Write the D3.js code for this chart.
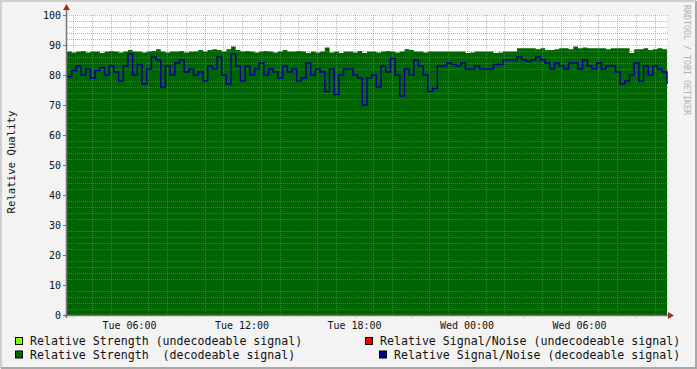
<!DOCTYPE html>
<html>
<head>
<meta charset="utf-8">
<script src="https://cdn.jsdelivr.net/npm/d3@7"></script>
<style>
  body { margin: 0; background: #f3f3f3; }
  svg { display: block; font-family: "DejaVu Sans Mono", monospace; }
</style>
</head>
<body>
<div id="chart"></div>
<script>
// 15 minute samples, Tue 02:40 -> Wed 10:40
var startTime = new Date(2013, 0, 1, 2, 40);
var stepMinutes = 15;

var strength = [
    87.8, 87.5, 87.8, 88.0, 87.5, 87.8, 87.8, 87.3, 87.8, 88.0,
    87.8, 87.5, 87.8, 88.3, 87.8, 87.8, 87.5, 87.8, 88.0, 88.6,
    87.8, 87.5, 87.8, 87.8, 88.0, 87.5, 87.8, 87.8, 88.3, 87.8,
    88.3, 88.6, 88.3, 87.8, 88.6, 89.5, 88.3, 87.8, 88.0, 87.8,
    87.5, 87.8, 88.0, 87.8, 87.5, 87.8, 88.3, 87.8, 87.8, 88.0,
    87.8, 87.3, 87.8, 87.5, 87.8, 89.2, 87.5, 87.8, 87.3, 87.8,
    87.8, 87.5, 88.0, 87.3, 87.8, 87.8, 87.5, 87.8, 88.0, 87.8,
    87.5, 87.8, 88.6, 88.3, 87.8, 87.8, 87.5, 87.8, 87.8, 87.8,
    87.8, 87.8, 87.8, 87.8, 87.8, 87.3, 87.5, 87.8, 87.8, 87.8,
    87.8, 87.3, 87.5, 87.8, 87.8, 87.8, 88.9, 88.9, 88.9, 88.9,
    88.6, 88.9, 88.3, 88.3, 88.6, 88.9, 88.9, 88.6, 89.5, 88.9,
    89.2, 88.9, 88.9, 88.9, 88.9, 88.6, 88.9, 88.9, 88.9, 88.9,
    87.3, 88.6, 88.6, 88.9, 88.3, 88.6, 88.9, 88.6, 88.6
];

var snr = [
    79.5, 81.5, 83.0, 80.0, 82.0, 79.0, 81.5, 82.5, 80.0, 83.0,
    81.0, 78.0, 83.0, 87.0, 80.0, 83.5, 77.0, 82.0, 86.0, 85.0,
    76.0, 83.0, 80.0, 84.0, 85.0, 81.0, 82.0, 80.0, 81.0, 78.0,
    83.0, 82.0, 86.0, 80.0, 77.0, 87.0, 83.0, 78.0, 83.0, 80.0,
    82.0, 84.0, 80.0, 82.0, 81.0, 79.0, 83.0, 81.0, 82.0, 78.0,
    79.0, 84.0, 80.0, 82.0, 81.0, 74.5, 82.0, 73.5, 80.0, 82.0,
    82.0, 80.0, 79.0, 70.0, 79.0, 80.0, 76.0, 83.0, 81.0, 85.5,
    80.0, 73.0, 82.0, 80.0, 85.0, 83.0, 80.0, 74.5, 75.5, 83.0,
    83.0, 84.0, 83.5, 83.0, 84.0, 82.0, 82.0, 83.0, 82.0, 82.0,
    82.0, 83.5, 83.5, 85.0, 85.0, 85.0, 86.0, 85.0, 84.5, 85.0,
    86.0, 85.0, 84.0, 82.0, 84.0, 83.0, 82.0, 84.0, 84.0, 82.0,
    85.0, 83.0, 82.0, 84.0, 82.0, 83.0, 83.0, 81.0, 77.0, 78.0,
    80.0, 84.0, 78.0, 83.0, 80.0, 83.0, 82.0, 81.0, 77.0
];

var yTicks = [0, 10, 20, 30, 40, 50, 60, 70, 80, 90, 100];

var legendItems = [
    { label: "Relative Strength (undecodeable signal)", color: "#80ff00", col: 0, row: 0 },
    { label: "Relative Signal/Noise (undecodeable signal)", color: "#ff0000", col: 1, row: 0 },
    { label: "Relative Strength  (decodeable signal)", color: "#006600", col: 0, row: 1 },
    { label: "Relative Signal/Noise (decodeable signal)", color: "#000099", col: 1, row: 1 }
];

var width = 697, height = 369;
var plotLeft = 67, plotRight = 667, plotTop = 15, plotBottom = 315;

var svg = d3.select("#chart")
    .append("svg")
    .attr("width", width)
    .attr("height", height);

// canvas + 3d frame
svg.append("rect")
    .attr("width", width)
    .attr("height", height)
    .attr("fill", "#f3f3f3");
svg.append("path")
    .attr("d", `M1,${height - 1}V1H${width - 1}`)
    .attr("fill", "none")
    .attr("stroke", "#cfcfcf")
    .attr("stroke-width", 2);
svg.append("path")
    .attr("d", `M1,${height - 1}H${width - 1}V1`)
    .attr("fill", "none")
    .attr("stroke", "#a8a8a8")
    .attr("stroke-width", 2);

var times = snr.map((d, i) => new Date(startTime.getTime() + i * stepMinutes * 60000));

var x = d3.scaleTime()
    .domain([times[0], times[times.length - 1]])
    .range([plotLeft, plotRight]);

var y = d3.scaleLinear()
    .domain([0, 100])
    .range([plotBottom, plotTop]);

svg.append("rect")
    .attr("x", plotLeft)
    .attr("y", plotTop)
    .attr("width", plotRight - plotLeft)
    .attr("height", plotBottom - plotTop)
    .attr("fill", "white");

// strength area
svg.append("path")
    .datum(strength)
    .attr("fill", "#006400")
    .attr("d", d3.area()
        .x((d, i) => x(times[i]))
        .y0(y(0))
        .y1(d => y(d))
        .curve(d3.curveStepAfter));

// grid
var minorY = d3.range(0, 101, 2).filter(v => v % 10 != 0);
svg.append("g").selectAll("line")
    .data(minorY)
    .join("line")
    .attr("x1", plotLeft)
    .attr("x2", plotRight + 1)
    .attr("y1", d => Math.round(y(d)) + 0.5)
    .attr("y2", d => Math.round(y(d)) + 0.5)
    .attr("stroke", "rgba(128,128,128,0.6)")
    .attr("stroke-dasharray", "1,1");

svg.append("g").selectAll("line")
    .data(yTicks.filter(d => d > 0))
    .join("line")
    .attr("x1", plotLeft)
    .attr("x2", plotRight + 1)
    .attr("y1", d => Math.round(y(d)) + 0.5)
    .attr("y2", d => Math.round(y(d)) + 0.5)
    .attr("stroke", "rgba(255,0,0,0.35)")
    .attr("stroke-dasharray", "1,1");

var hours = x.ticks(d3.timeHour.every(1));
var majors = x.ticks(d3.timeHour.every(3));
var labels = x.ticks(d3.timeHour.every(6));

svg.append("g").selectAll("line")
    .data(hours.filter(d => d.getHours() % 3 != 0))
    .join("line")
    .attr("x1", d => Math.round(x(d)) + 0.5)
    .attr("x2", d => Math.round(x(d)) + 0.5)
    .attr("y1", plotTop)
    .attr("y2", plotBottom)
    .attr("stroke", "rgba(128,128,128,0.6)")
    .attr("stroke-dasharray", "1,1");

svg.append("g").selectAll("line")
    .data(majors)
    .join("line")
    .attr("x1", d => Math.round(x(d)) + 0.5)
    .attr("x2", d => Math.round(x(d)) + 0.5)
    .attr("y1", plotTop)
    .attr("y2", plotBottom + 3)
    .attr("stroke", "rgba(255,0,0,0.35)")
    .attr("stroke-dasharray", "1,1");

// signal/noise line
svg.append("path")
    .datum(snr)
    .attr("fill", "none")
    .attr("stroke", "#000099")
    .attr("stroke-width", 1.5)
    .attr("d", d3.line()
        .x((d, i) => x(times[i]))
        .y(d => y(d))
        .curve(d3.curveStepAfter));

// axes
svg.append("line")
    .attr("x1", plotLeft - 0.5).attr("x2", plotLeft - 0.5)
    .attr("y1", plotBottom + 3).attr("y2", 8)
    .attr("stroke", "#777")
    .attr("stroke-width", 1.5);
svg.append("line")
    .attr("x1", plotLeft - 3).attr("x2", plotRight + 4)
    .attr("y1", plotBottom + 0.5).attr("y2", plotBottom + 0.5)
    .attr("stroke", "#777")
    .attr("stroke-width", 1.5);
svg.append("path")
    .attr("d", `M${plotLeft - 0.5},4L${plotLeft + 3},10L${plotLeft - 4},10Z`)
    .attr("fill", "#a52a2a");
svg.append("path")
    .attr("d", `M${plotRight + 7},${plotBottom + 0.5}L${plotRight + 1},${plotBottom - 3}L${plotRight + 1},${plotBottom + 4}Z`)
    .attr("fill", "#a52a2a");

svg.append("g").selectAll("line")
    .data(yTicks)
    .join("line")
    .attr("x1", plotLeft - 4)
    .attr("x2", plotLeft - 1)
    .attr("y1", d => Math.round(y(d)) + 0.5)
    .attr("y2", d => Math.round(y(d)) + 0.5)
    .attr("stroke", "#777");

svg.append("g").selectAll("text")
    .data(yTicks)
    .join("text")
    .attr("x", 61)
    .attr("y", d => y(d))
    .attr("dy", "0.35em")
    .attr("text-anchor", "end")
    .attr("font-size", "10px")
    .attr("fill", "#111")
    .text(d => d);

svg.append("g").selectAll("text")
    .data(labels)
    .join("text")
    .attr("x", d => x(d))
    .attr("y", 329)
    .attr("text-anchor", "middle")
    .attr("font-size", "10px")
    .attr("fill", "#111")
    .text(d3.timeFormat("%a %H:%M"));

svg.append("text")
    .attr("transform", "translate(15,162) rotate(-90)")
    .attr("text-anchor", "middle")
    .attr("font-size", "10.7px")
    .attr("fill", "#111")
    .text("Relative Quality");

svg.append("text")
    .attr("transform", "translate(684,60) rotate(90)")
    .attr("text-anchor", "middle")
    .attr("font-size", "8.3px")
    .attr("fill", "#b0b0b0")
    .text("RRDTOOL / TOBI OETIKER");

// legend
var legendX = [[15, 30], [365, 380]];
var legendX2 = [[15, 30], [379, 394]];
var legend = svg.append("g").selectAll("g")
    .data(legendItems)
    .join("g")
    .attr("transform", d => {
        var cols = d.row == 0 ? legendX : legendX2;
        return `translate(${cols[d.col][0]},${d.row == 0 ? 337 : 350.5})`;
    });
legend.append("rect")
    .attr("x", 0.5)
    .attr("y", 0.5)
    .attr("width", 7)
    .attr("height", 7)
    .attr("fill", d => d.color)
    .attr("stroke", "black");
legend.append("text")
    .attr("x", 15)
    .attr("y", 8)
    .attr("font-size", "11.6px")
    .attr("fill", "#111")
    .style("white-space", "pre")
    .text(d => d.label);
</script>
</body>
</html>
